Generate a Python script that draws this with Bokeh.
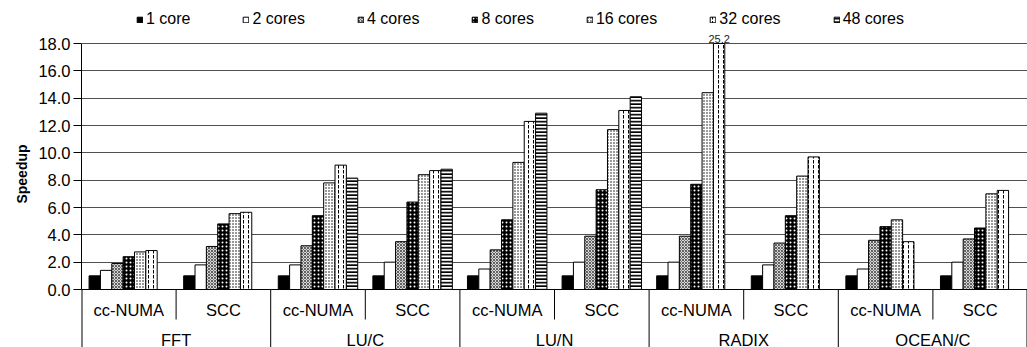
import numpy as np
from bokeh.plotting import figure
from bokeh.models import (ColumnDataSource, FactorRange, Range1d, FixedTicker,
                          PrintfTickFormatter, Span, Legend, LegendItem)
from bokeh.transform import dodge
from bokeh.core.properties import value
from bokeh.embed import file_html
from bokeh.resources import INLINE

nan = float("nan")

# ---------------- data ----------------
benchmarks = ["FFT", "LU/C", "LU/N", "RADIX", "OCEAN/C"]
archs = ["cc-NUMA", "SCC"]
series_names = ["1 core", "2 cores", "4 cores", "8 cores", "16 cores", "32 cores", "48 cores"]
# order: FFT cc, FFT SCC, LU/C cc, LU/C SCC, LU/N cc, LU/N SCC, RADIX cc, RADIX SCC, OCEAN/C cc, OCEAN/C SCC
speedup_1 = [1.0, 1.0, 1.0, 1.0, 1.0, 1.0, 1.0, 1.0, 1.0, 1.0]
speedup_2 = [1.4, 1.8, 1.8, 2.0, 1.5, 2.0, 2.0, 1.8, 1.5, 2.0]
speedup_4 = [1.9, 3.15, 3.2, 3.5, 2.9, 3.9, 3.9, 3.4, 3.6, 3.7]
speedup_8 = [2.4, 4.8, 5.4, 6.4, 5.1, 7.3, 7.7, 5.4, 4.6, 4.5]
speedup_16 = [2.75, 5.55, 7.8, 8.4, 9.3, 11.7, 14.4, 8.3, 5.1, 7.0]
speedup_32 = [2.85, 5.65, 9.1, 8.7, 12.3, 13.1, 25.2, 9.7, 3.5, 7.25]
speedup_48 = [nan, nan, 8.15, 8.8, 12.9, 14.1, nan, nan, nan, nan]
series_values = [speedup_1, speedup_2, speedup_4, speedup_8, speedup_16, speedup_32, speedup_48]
y_ticks = [0, 2, 4, 6, 8, 10, 12, 14, 16, 18]

# ---------------- layout ----------------
W, H = 1027, 347
LEFT = 81
Y_MAX = 18.0
TOP_PX = 43      # px from top to the 18.0 line
ZERO_PX = 289    # px from top to the 0 line
unit = (ZERO_PX - TOP_PX) / Y_MAX
y_lo = -(H - ZERO_PX) / unit
y_hi = Y_MAX + TOP_PX / unit
y_arch = -20 / unit
y_bench = -50 / unit
y_short = -30 / unit
BW = 0.12
FONT = value("Liberation Sans")

factors = [(b, a) for b in benchmarks for a in archs]
xr = FactorRange(*factors, factor_padding=0, group_padding=0, subgroup_padding=0, range_padding=0)

p = figure(width=W, height=H, x_range=xr, y_range=Range1d(y_lo, y_hi),
           output_backend="svg", toolbar_location=None, x_axis_location=None,
           min_border_left=LEFT, min_border_right=0, min_border_top=0, min_border_bottom=0)
p.outline_line_color = None
p.xgrid.visible = False

styles = [
    dict(fill_color="black"),
    dict(fill_color="white"),
    dict(fill_color="#d8d8d8", hatch_pattern="diagonal_cross", hatch_scale=3, hatch_color="#444444", hatch_weight=0.8),
    dict(fill_color="black", hatch_pattern="dot", hatch_scale=4, hatch_color="white", hatch_weight=1),
    dict(fill_color="white", hatch_pattern="dot", hatch_scale=3, hatch_color="black", hatch_weight=1),
    dict(fill_color="white", hatch_pattern="vertical_dash", hatch_scale=5, hatch_color="black", hatch_weight=1),
    dict(fill_color="white", hatch_pattern="horizontal_line", hatch_scale=3.5, hatch_color="black", hatch_weight=1.8),
]

# grid & zero line
p.ygrid.grid_line_color = "#505050"
p.ygrid.grid_line_width = 1
p.add_layout(Span(location=0, dimension="width", line_color="black", line_width=1))

items = []
for i, (name, vals) in enumerate(zip(series_names, series_values)):
    v = np.array(vals, dtype=float)
    top = np.minimum(v, Y_MAX)
    src = ColumnDataSource(dict(x=factors, top=top))
    off = (i - 3) * BW
    r = p.vbar(x=dodge("x", off, range=xr), top="top", width=BW, bottom=0, source=src,
               line_color="black", line_width=1, **styles[i])
    items.append(LegendItem(label=name, renderers=[r]))
    clipped = [k for k in range(len(v)) if v[k] > Y_MAX]
    if clipped:
        tsrc = ColumnDataSource(dict(x=[factors[k] for k in clipped],
                                     y=[Y_MAX] * len(clipped),
                                     t=["%.1f" % v[k] for k in clipped]))
        p.text(x=dodge("x", off, range=xr), y="y", text="t", source=tsrc,
               text_align="center", text_baseline="bottom", y_offset=-1,
               text_font=FONT, text_font_size="11px", text_color="#222222")

# category axis drawn below zero
short_x = [(b, archs[1], -0.5) for b in benchmarks]
long_x = [(b, archs[0], -0.5) for b in benchmarks] + [(benchmarks[-1], archs[1], 0.5)]
long_w = [2] + [1] * (len(long_x) - 2) + [2]
p.segment(x0=short_x, x1=short_x, y0=[0] * len(short_x), y1=[y_short] * len(short_x),
          line_color="black", line_width=1)
p.segment(source=ColumnDataSource(dict(x=long_x, y0=[0] * len(long_x),
                                       y1=[y_lo] * len(long_x), w=long_w)),
          x0="x", x1="x", y0="y0", y1="y1", line_color="black", line_width="w")
p.text(x=factors, y=[y_arch] * len(factors), text=[a for _, a in factors],
       text_align="center", text_baseline="middle", text_font=FONT,
       text_font_size="16.5px", text_color="black")
p.text(x=benchmarks, y=[y_bench] * len(benchmarks), text=benchmarks,
       text_align="center", text_baseline="middle", text_font=FONT,
       text_font_size="16.5px", text_color="black")

# y axis
ax = p.yaxis[0]
ax.ticker = FixedTicker(ticks=y_ticks)
ax.formatter = PrintfTickFormatter(format="%.1f")
ax.bounds = (0, Y_MAX)
ax.major_tick_out = 8
ax.major_tick_in = 0
ax.minor_tick_line_color = None
ax.axis_line_color = "black"
ax.major_tick_line_color = "black"
ax.major_label_standoff = 3
ax.major_label_text_font = "Liberation Sans"
ax.major_label_text_font_size = "16.5px"
ax.major_label_text_color = "black"
ax.axis_label = "Speedup"
ax.axis_label_text_font = "Liberation Sans"
ax.axis_label_text_font_style = "bold"
ax.axis_label_text_font_size = "14px"
ax.axis_label_text_color = "black"
ax.axis_label_standoff = 5

legend = Legend(items=items, orientation="horizontal", location=(55, H - 17 - 11),
                glyph_width=7, glyph_height=7, label_standoff=3, spacing=52,
                padding=0, margin=0, border_line_color=None, background_fill_alpha=0,
                label_text_font="Liberation Sans", label_text_font_size="16px",
                label_text_color="black")
p.add_layout(legend)

open("out.html", "w").write(file_html(p, INLINE))
